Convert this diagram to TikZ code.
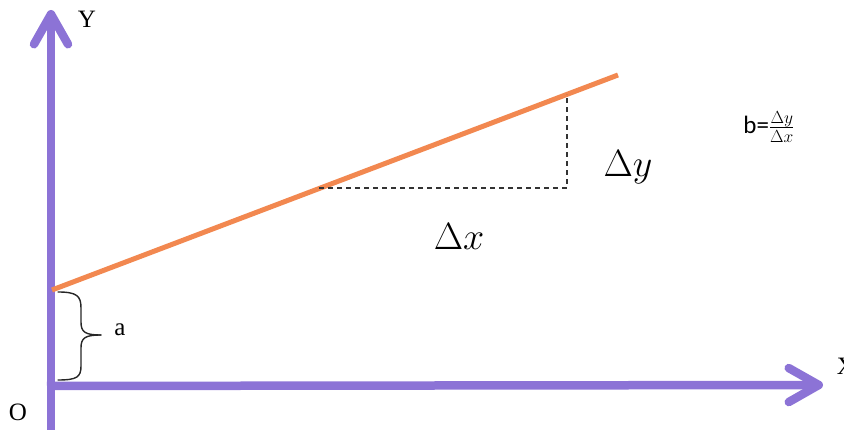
\RequirePackage{fix-cm}
\documentclass[tikz,border=0pt]{standalone}
\usepackage{fontspec}
\setmainfont{Liberation Serif}
\newfontfamily\calib{Carlito}
\usetikzlibrary{arrows.meta}
\definecolor{axpurple}{RGB}{140,115,214}
\definecolor{lineorange}{RGB}{242,136,80}
\begin{document}
\begin{tikzpicture}[x=1pt,y=-1pt,
  axis/.style={draw=axpurple,line width=8.5pt,-{Straight Barb[length=30pt,width=34pt,round]}},
  fitline/.style={draw=lineorange,line width=5pt},
  guide/.style={draw=black!80,line width=1.3pt,dash pattern=on 5pt off 4pt},
  bracepath/.style={draw=black!85,line width=1.4pt,line cap=round,line join=round},
  lbl/.style={inner sep=0pt,font=\fontsize{25}{28}\selectfont},
  delta/.style={inner sep=0pt,font=\fontsize{38}{42}\selectfont}]
\useasboundingbox (0,0) rectangle (844,430);
\clip (0,0) rectangle (844,430);
\coordinate (bot) at (51,432);
\coordinate (orig) at (51,386);
\coordinate (ytip) at (51,10);
\coordinate (xtip) at (823,385);
\coordinate (p0) at (52,290);
\coordinate (p1) at (618,75);
\coordinate (c1) at (319,188);
\coordinate (c2) at (567,188);
\coordinate (c3) at (567,94);
\draw[draw=axpurple,line width=8.5pt] (bot) -- (orig);
\draw[axis] (orig) -- (ytip);
\draw[axis] (47,386) -- (xtip);
\draw[fitline] (p0) -- (p1);
\draw[guide] (c1) -- (c2) -- (c3);
\draw[bracepath] (58,292) .. controls (77,292) and (81,296) .. (81,308) -- (81,322)
  .. controls (81,332) and (85,335) .. (101,335);
\draw[bracepath] (101,335) .. controls (85,335) and (81,338) .. (81,348) -- (81,366)
  .. controls (81,377) and (77,380) .. (58,380);
\node[lbl] (ylab) at (87,19) {Y};
\node[lbl] (xlab) at (846,366) {X};
\node[lbl] (olab) at (18,412) {O};
\node[lbl] (alab) at (120,330) {a};
\node[delta] (dy) at (628,167) {$\Delta y$};
\node[delta] (dx) at (459,237) {$\Delta x$};
\node[inner sep=0pt,font=\calib\fontsize{25}{28}\selectfont] (bform) at (769,127) {b=$\frac{\Delta y}{\Delta x}$};
\end{tikzpicture}
\end{document}
